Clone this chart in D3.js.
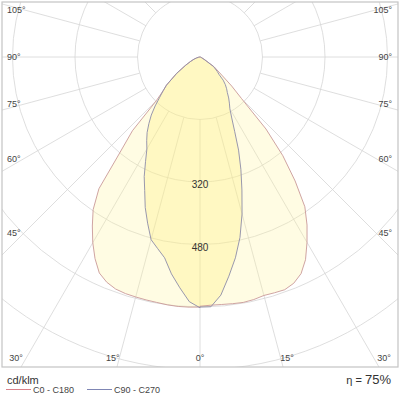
<!DOCTYPE html>
<html>
<head>
<meta charset="utf-8">
<script src="https://cdn.jsdelivr.net/npm/d3@7"></script>
<style>
  body { margin: 0; background: #fff; }
  svg { display: block; font-family: "Liberation Sans", Arial, sans-serif; }
</style>
</head>
<body>
<div id="chart"></div>
<script>
// angles from nadir (deg) and intensities in cd/klm
const gamma = [0, 2.5, 5, 7.5, 10, 12.5, 15, 17.5, 20, 22.5, 25, 27.5, 30, 32.5, 35, 37.5, 40, 42.5, 45, 47.5, 50, 55, 60, 65, 70, 75, 80, 85, 90];
const c0   = [638, 636, 636, 637, 638, 636, 632, 633, 634, 627, 612, 585, 548, 510, 468, 400, 330, 250, 150, 110, 75, 45, 15, 6, 3, 2, 1, 0, 0];
const c180 = [640, 641, 641, 640, 638, 637, 636, 635, 632, 624, 610, 582, 549, 513, 477, 425, 318, 256, 158, 128, 112, 74, 44, 27, 17, 9, 4, 2, 0];
const c90  = [640, 640, 612, 566, 522, 473, 416, 357, 306, 258, 210, 176, 153, 140, 128, 115, 106, 96, 84, 66, 58, 42, 12, 5, 3, 2, 1, 0, 0];
const c270 = [642, 627, 593, 560, 522, 502, 484, 446, 410, 370, 338, 302, 272, 254, 236, 215, 194, 170, 146, 128, 112, 72, 42, 26, 16, 9, 4, 2, 0];

const ringValues = [160, 320, 480, 640, 800];
const ringLabels = [320, 480];
const gridAngles = [0, 15, 30, 45, 60, 75, 90, 105, 120, 135, 150, 165, 180];
const sideLabels = [45, 60, 75, 90, 105];
const bottomLabels = [0, 15, 30];
const unitLabel = "cd/klm";
const legendNames = ["C0 - C180", "C90 - C270"];
const efficiency = "75%";

const width = 400, height = 400;
const frame = { x: 2, y: 2, w: 396, h: 365 };
const cx = 200, cy = 57;
const rad = Math.PI / 180;

const r = d3.scaleLinear().domain([0, 160]).range([0, 62.5]);

const svg = d3.select("#chart").append("svg")
    .attr("width", width)
    .attr("height", height);

svg.append("rect").attr("width", width).attr("height", height).attr("fill", "#fff");

svg.append("clipPath").attr("id", "clip")
    .append("rect")
    .attr("x", frame.x).attr("y", frame.y)
    .attr("width", frame.w).attr("height", frame.h);

const plot = svg.append("g").attr("clip-path", "url(#clip)");
const g = plot.append("g").attr("transform", `translate(${cx},${cy})`);

// grid circles
g.selectAll("circle.ring")
    .data(ringValues)
    .join("circle")
    .attr("class", "ring")
    .attr("r", d => r(d))
    .attr("fill", "none")
    .attr("stroke", "#d6d6d6")
    .attr("stroke-width", 0.8);

// radial lines both sides, starting at the first ring
const spokes = [];
gridAngles.forEach(a => {
    spokes.push(a);
    if (a !== 0 && a !== 180) spokes.push(-a);
});
g.selectAll("line.spoke")
    .data(spokes)
    .join("line")
    .attr("class", "spoke")
    .attr("x1", d => r(ringValues[0]) * Math.sin(d * rad))
    .attr("y1", d => r(ringValues[0]) * Math.cos(d * rad))
    .attr("x2", d => 600 * Math.sin(d * rad))
    .attr("y2", d => 600 * Math.cos(d * rad))
    .attr("stroke", "#d6d6d6")
    .attr("stroke-width", 0.8);

// curves
function halfPlanes(right, left) {
    const pts = [];
    gamma.forEach((a, i) => pts.push([Math.PI - a * rad, r(right[i])]));
    for (let i = gamma.length - 1; i >= 0; i--) pts.push([Math.PI + gamma[i] * rad, r(left[i])]);
    return pts;
}
const radial = d3.lineRadial()
    .angle(d => d[0])
    .radius(d => d[1])
    .curve(d3.curveLinearClosed);

const curves = [
    { pts: halfPlanes(c0, c180), stroke: "#c99a98", fill: "#fff59a", op: 0.28 },
    { pts: halfPlanes(c90, c270), stroke: "#8d8ca8", fill: "#fff078", op: 0.3 }
];

g.selectAll("path.fill")
    .data(curves)
    .join("path")
    .attr("class", "fill")
    .attr("d", d => radial(d.pts))
    .attr("fill", d => d.fill)
    .attr("fill-opacity", d => d.op);

g.selectAll("path.outline")
    .data(curves)
    .join("path")
    .attr("class", "outline")
    .attr("d", d => radial(d.pts))
    .attr("fill", "none")
    .attr("stroke", d => d.stroke)
    .attr("stroke-width", 0.9);

// ring value labels
g.selectAll("text.ringlab")
    .data(ringLabels)
    .join("text")
    .attr("class", "ringlab")
    .attr("x", 0)
    .attr("y", d => r(d) + 6)
    .attr("text-anchor", "middle")
    .attr("font-size", 10)
    .attr("fill", "#333")
    .text(d => d);

// frame
svg.append("rect")
    .attr("x", frame.x).attr("y", frame.y)
    .attr("width", frame.w).attr("height", frame.h)
    .attr("fill", "none")
    .attr("stroke", "#c4c4c4")
    .attr("stroke-width", 1.2);

// angle labels
const lab = svg.append("g").attr("font-size", 9).attr("fill", "#444");
sideLabels.forEach(a => {
    const y = cy + 176 * Math.cos(a * rad) / Math.sin(a * rad) + 3;
    lab.append("text").attr("x", 7).attr("y", y).attr("text-anchor", "start").text(a + "°");
    lab.append("text").attr("x", 392).attr("y", y).attr("text-anchor", "end").text(a + "°");
});
bottomLabels.forEach(a => {
    const dx = Math.min(325 * Math.tan(a * rad), 184);
    const y = 361;
    lab.append("text").attr("x", cx - dx).attr("y", y).attr("text-anchor", "middle").text(a + "°");
    if (a !== 0) lab.append("text").attr("x", cx + dx).attr("y", y).attr("text-anchor", "middle").text(a + "°");
});

// legend
svg.append("text")
    .attr("x", 7).attr("y", 384)
    .attr("font-size", 11)
    .attr("fill", "#333")
    .text(unitLabel);

const legendColors = ["#d9828a", "#7f86b4"];
const legendX = [6, 87];
legendNames.forEach((name, i) => {
    svg.append("line")
        .attr("x1", legendX[i]).attr("x2", legendX[i] + 25)
        .attr("y1", 389.5).attr("y2", 389.5)
        .attr("stroke", legendColors[i])
        .attr("stroke-width", 1);
    svg.append("text")
        .attr("x", legendX[i] + 27).attr("y", 393)
        .attr("font-size", 9)
        .attr("fill", "#444")
        .text(name);
});

const eta = svg.append("text")
    .attr("x", 391).attr("y", 384)
    .attr("text-anchor", "end")
    .attr("fill", "#333");
eta.append("tspan").attr("font-size", 11).text("η = ");
eta.append("tspan").attr("font-size", 13).text(efficiency);
</script>
</body>
</html>
